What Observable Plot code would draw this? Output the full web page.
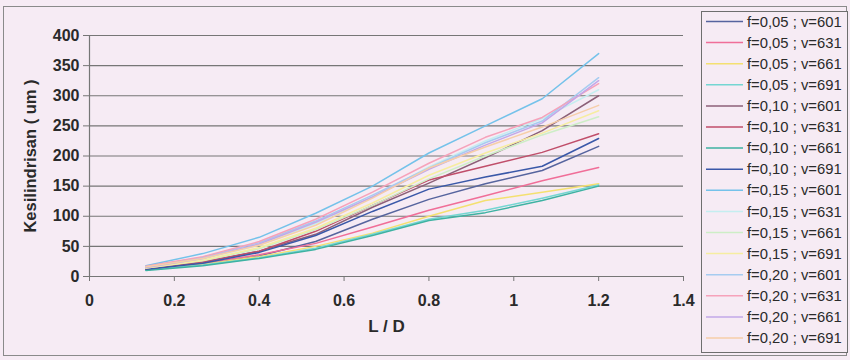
<!DOCTYPE html>
<html>
<head>
<meta charset="utf-8">
<script src="https://cdn.jsdelivr.net/npm/d3@7"></script>
<script src="https://cdn.jsdelivr.net/npm/@observablehq/plot@0.6"></script>
<style>
  html, body { margin: 0; padding: 0; background: #f6ebf4; }
  #chart { position: relative; width: 850px; height: 360px; overflow: hidden;
           font-family: "Liberation Sans", Arial, sans-serif; }
  #chart > svg.plot-main { position: absolute; left: 0; top: 0; }
  #frame { position: absolute; left: 3px; top: 6px; width: 844px; height: 350px;
           border: 1px solid #8a8a8a; box-sizing: border-box; }
  #chart > svg#legend { position: absolute; left: 701px; top: 11px; }
</style>
</head>
<body>
<div id="chart"><div id="frame"></div></div>
<script>
// L/D positions of the measurements
const ld = [0.133, 0.267, 0.4, 0.533, 0.667, 0.8, 0.933, 1.067, 1.2];

// feed f and speed v of each series
const seriesNames = [
  "f=0,05 ; v=601", "f=0,05 ; v=631", "f=0,05 ; v=661", "f=0,05 ; v=691",
  "f=0,10 ; v=601", "f=0,10 ; v=631", "f=0,10 ; v=661", "f=0,10 ; v=691",
  "f=0,15 ; v=601", "f=0,15 ; v=631", "f=0,15 ; v=661", "f=0,15 ; v=691",
  "f=0,20 ; v=601", "f=0,20 ; v=631", "f=0,20 ; v=661", "f=0,20 ; v=691"
];

// cylindricity (um) for each series, one value per L/D
const f005v601 = [11, 20, 34, 58, 95, 128, 154, 176, 216];
const f005v631 = [12, 22, 36, 55, 82, 110, 134, 159, 181];
const f005v661 = [12, 20, 33, 50, 72, 100, 126, 140, 154];
const f005v691 = [11, 19, 31, 47, 70, 95, 110, 130, 152];
const f010v601 = [12, 24, 42, 70, 115, 155, 197, 242, 300];
const f010v631 = [13, 24, 42, 75, 118, 160, 183, 206, 237];
const f010v661 = [10, 18, 30, 45, 68, 93, 106, 126, 150];
const f010v691 = [12, 22, 40, 68, 108, 145, 165, 183, 229];
const f015v601 = [18, 38, 65, 105, 150, 205, 250, 295, 370];
const f015v631 = [15, 29, 52, 88, 132, 182, 225, 262, 310];
const f015v661 = [14, 26, 46, 78, 118, 162, 200, 235, 265];
const f015v691 = [14, 27, 48, 80, 122, 168, 205, 238, 275];
const f020v601 = [16, 32, 56, 92, 135, 180, 222, 258, 330];
const f020v631 = [17, 33, 58, 95, 140, 188, 231, 264, 320];
const f020v661 = [15, 30, 54, 90, 132, 178, 218, 255, 325];
const f020v691 = [16, 30, 52, 85, 130, 180, 215, 248, 284];

const seriesValues = [
  f005v601, f005v631, f005v661, f005v691,
  f010v601, f010v631, f010v661, f010v691,
  f015v601, f015v631, f015v661, f015v691,
  f020v601, f020v631, f020v661, f020v691
];

const xTicks = [0, 0.2, 0.4, 0.6, 0.8, 1, 1.2, 1.4];
const yTicks = [0, 50, 100, 150, 200, 250, 300, 350, 400];

// line colours, in series order
const palette = [
  "#56649e", "#f06e98", "#f4e070", "#74d6d2",
  "#8c6078", "#c04e6a", "#3eb2a2", "#3a58a8",
  "#74c2ea", "#c4eef0", "#cdeec6", "#f6eda0",
  "#a6ccf0", "#f6a2ba", "#c2a8e8", "#f6cea8"
];

const rows = seriesNames.flatMap((name, i) =>
  ld.map((x, j) => ({series: name, ld: x, value: seriesValues[i][j]}))
);

const font = "Liberation Sans, Arial, sans-serif";
const fmtX = d => String(+d.toFixed(1));

const chart = Plot.plot({
  className: "plot-main",
  width: 850,
  height: 360,
  marginLeft: 89,
  marginRight: 167,
  marginTop: 35,
  marginBottom: 84,
  style: {background: "transparent", fontFamily: font, color: "#2a2a2a", overflow: "visible"},
  x: {domain: [0, 1.4]},
  y: {domain: [0, 400]},
  color: {domain: seriesNames, range: palette},
  marks: [
    Plot.ruleY(yTicks, {y: d => d, stroke: "#767676", strokeWidth: 1.2, x1: 0, x2: 1.4}),
    Plot.ruleX([0], {stroke: "#767676", strokeWidth: 1.2}),
    Plot.axisY({ticks: yTicks, tickSize: 6, tickPadding: 4, stroke: "#767676",
      fontSize: 16, fontWeight: "bold", label: null, tickFormat: d => String(d)}),
    Plot.axisX({ticks: xTicks, tickSize: 5, tickPadding: 13, stroke: "#767676",
      fontSize: 16, fontWeight: "bold", label: null, tickFormat: fmtX}),
    Plot.line(rows, {x: "ld", y: "value", z: "series", stroke: "series", strokeWidth: 1.5}),
    Plot.text(["Kesilindrisan ( um )"], {frameAnchor: "left", dx: -59, rotate: -90,
      fontSize: 16.5, fontWeight: "bold", fill: "#2a2a2a", textAnchor: "middle"}),
    Plot.text(["L / D"], {frameAnchor: "bottom", dy: 55, fontSize: 17, fontWeight: "bold",
      fill: "#2a2a2a", textAnchor: "middle"})
  ]
});
document.getElementById("chart").appendChild(chart);

// legend box on the right
const legW = 146, legH = 341, rowH = 21.1, firstRow = 10.5;
const leg = d3.select("#chart").append("svg")
  .attr("id", "legend")
  .attr("width", legW + 1).attr("height", legH + 1);
leg.append("rect")
  .attr("x", 0.5).attr("y", 0.5).attr("width", legW).attr("height", legH)
  .attr("fill", "#f6ebf4").attr("stroke", "#6e6e6e");
const item = leg.selectAll("g").data(seriesNames).join("g")
  .attr("transform", (d, i) => `translate(0,${firstRow + i * rowH})`);
item.append("line")
  .attr("x1", 5).attr("x2", 42).attr("y1", 0).attr("y2", 0)
  .attr("stroke", (d, i) => palette[i]).attr("stroke-width", 1.5);
item.append("text")
  .attr("x", 46).attr("y", 0).attr("dy", "0.35em")
  .attr("font-family", font).attr("font-size", 14.8)
  .attr("fill", "#2a2a2a")
  .text(d => d);
</script>
</body>
</html>
